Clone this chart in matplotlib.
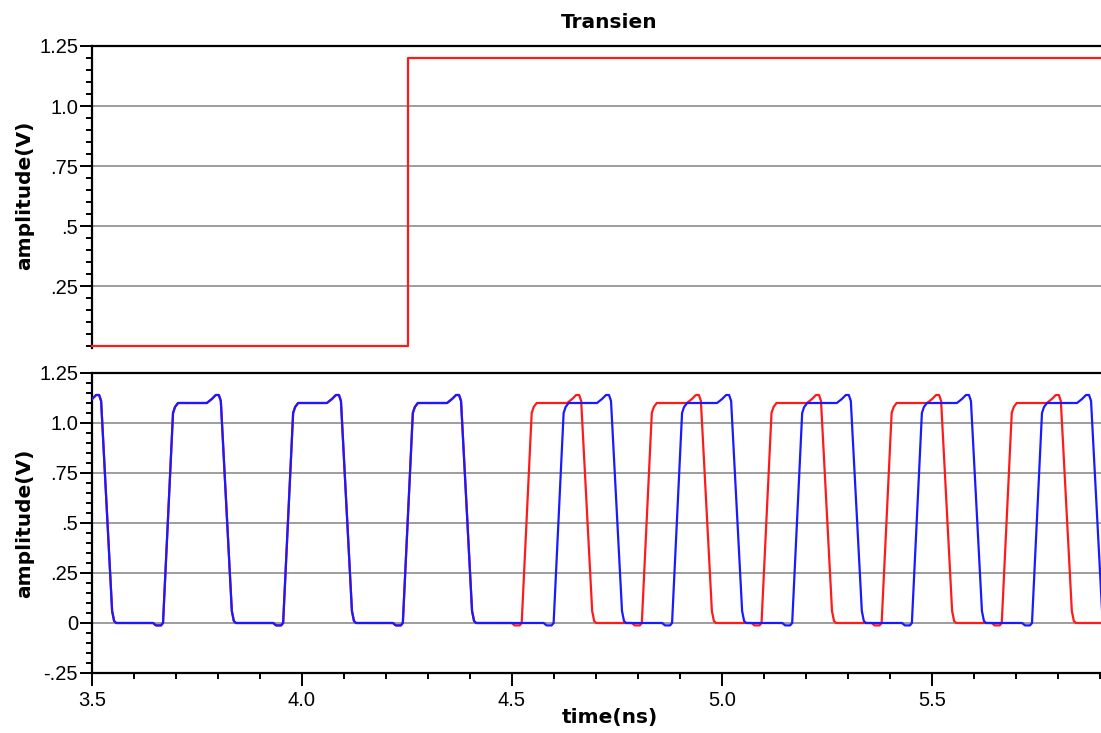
import numpy as np
import matplotlib
matplotlib.use("Agg")
import matplotlib.pyplot as plt
from matplotlib.ticker import MultipleLocator

# ---- data (times in ns, levels in V) ----
step_time = 4.252          # enable step in the upper trace
step_levels = [0.0, 1.2]

# mid-swing crossing times of the two clock outputs
red_rise = [3.681, 3.967, 4.252, 4.535, 4.821, 5.106, 5.392, 5.678]
red_fall = [3.536, 3.821, 4.107, 4.393, 4.679, 4.964, 5.250, 5.536, 5.821]
blue_rise = [3.681, 3.967, 4.252, 4.611, 4.893, 5.179, 5.464, 5.750]
blue_fall = [3.536, 3.821, 4.107, 4.393, 4.750, 5.036, 5.321, 5.607, 5.893]

v_high = 1.10
v_low = 0.0
v_over = 1.14
v_under = -0.012

y_top_ticks = [0.25, 0.5, 0.75, 1.0, 1.25]
y_top_labels = [".25", ".5", ".75", "1.0", "1.25"]
y_bot_ticks = [-0.25, 0.0, 0.25, 0.5, 0.75, 1.0, 1.25]
y_bot_labels = ["-.25", "0", ".25", ".5", ".75", "1.0", "1.25"]
x_ticks = [3.5, 4.0, 4.5, 5.0, 5.5]
x_labels = ["3.5", "4.0", "4.5", "5.0", "5.5"]

# ---- edge shapes (offsets in ns around the mid crossing) ----
P = 1.0 / 420.0
RISE = [(-15 * P, v_low), (-12 * P, v_under), (-7 * P, v_under), (-5 * P, v_low),
        (5 * P, 1.05), (7 * P, 1.08), (10 * P, v_high)]
FALL = [(-20 * P, v_high), (-15 * P, 1.12), (-11 * P, v_over), (-8 * P, v_over),
        (-6 * P, 1.11), (5 * P, 0.06), (7 * P, 0.01), (9 * P, v_low)]


def waveform(rises, falls, t0=3.3, t1=6.1):
    pts = []
    for m in rises:
        pts += [(m + d, v) for d, v in RISE]
    for m in falls:
        pts += [(m + d, v) for d, v in FALL]
    pts.sort()
    first_is_fall = min(falls) < min(rises)
    last_is_fall = max(falls) > max(rises)
    pts.insert(0, (t0, v_high if first_is_fall else v_low))
    pts.append((t1, v_low if last_is_fall else v_high))
    t, v = zip(*pts)
    return np.array(t), np.array(v)


t_red, v_red = waveform(red_rise, red_fall)
t_blue, v_blue = waveform(blue_rise, blue_fall)

# ---- figure ----
W, H = 1101, 733
fig = plt.figure(figsize=(W / 100, H / 100), dpi=100)
fig.patch.set_facecolor("white")

tick_font = dict(family="Liberation Sans", size=14.5)
lab_font = dict(family="DejaVu Sans", weight="bold", size=14.5)

left = 92 / W
ax1 = fig.add_axes([left, 1 - 348 / H, 1 - left, (348 - 46) / H])
ax2 = fig.add_axes([left, 1 - 673 / H, 1 - left, (673 - 373) / H])

xmin, xmax = 3.5, 3.5 + (W - 92) / 420.0
grid_c = "#8c8c8c"
red_c = "#ff1a1a"
blue_c = "#1a1aff"

for ax in (ax1, ax2):
    ax.set_xlim(xmin, xmax)
    ax.spines["right"].set_visible(False)
    for s in ("top", "left", "bottom"):
        ax.spines[s].set_linewidth(1.6)
        ax.spines[s].set_color("black")
    ax.yaxis.set_minor_locator(MultipleLocator(0.05))
    ax.tick_params(axis="y", which="major", direction="out", length=9, width=1.4,
                   pad=1, labelsize=tick_font["size"], colors="black")
    ax.tick_params(axis="y", which="minor", direction="out", length=4.5, width=1.4)
    ax.grid(axis="y", which="major", color=grid_c, linewidth=1.2)
    ax.set_axisbelow(True)

# upper panel: enable step
ax1.set_ylim(-0.008, 1.25)
ax1.spines["bottom"].set_visible(False)
ax1.set_yticks(y_top_ticks)
ax1.set_yticklabels(y_top_labels, fontfamily=tick_font["family"])
ax1.tick_params(axis="x", which="both", bottom=False, labelbottom=False)
ax1.plot([xmin, step_time, step_time, xmax],
         [step_levels[0], step_levels[0], step_levels[1], step_levels[1]],
         color=red_c, linewidth=1.6, clip_on=False, zorder=3)
ax1.set_xlim(xmin, xmax)

# lower panel: clock outputs
ax2.set_ylim(-0.25, 1.25)
ax2.set_yticks(y_bot_ticks)
ax2.set_yticklabels(y_bot_labels, fontfamily=tick_font["family"])
ax2.set_xticks(x_ticks)
ax2.set_xticklabels(x_labels, fontfamily=tick_font["family"])
ax2.xaxis.set_minor_locator(MultipleLocator(0.1))
ax2.tick_params(axis="x", which="major", direction="out", length=9, width=1.4,
                pad=4, labelsize=tick_font["size"], colors="black")
ax2.tick_params(axis="x", which="minor", direction="out", length=4.5, width=1.4)
ax2.plot(t_red, v_red, color=red_c, linewidth=1.6, zorder=3)
ax2.plot(t_blue, v_blue, color=blue_c, linewidth=1.6, zorder=4)
ax2.set_xlim(xmin, xmax)

# texts
fig.text(609 / W, 1 - 22 / H, "Transien", ha="center", va="center", **lab_font)
fig.text(610 / W, 1 - 717 / H, "time(ns)", ha="center", va="center", **lab_font)
fig.text(25 / W, 1 - 195 / H, "amplitude(V)", ha="center", va="center",
         rotation=90, **lab_font)
fig.text(25 / W, 1 - 523 / H, "amplitude(V)", ha="center", va="center",
         rotation=90, **lab_font)

fig.savefig("out.png", dpi=100, facecolor="white")
